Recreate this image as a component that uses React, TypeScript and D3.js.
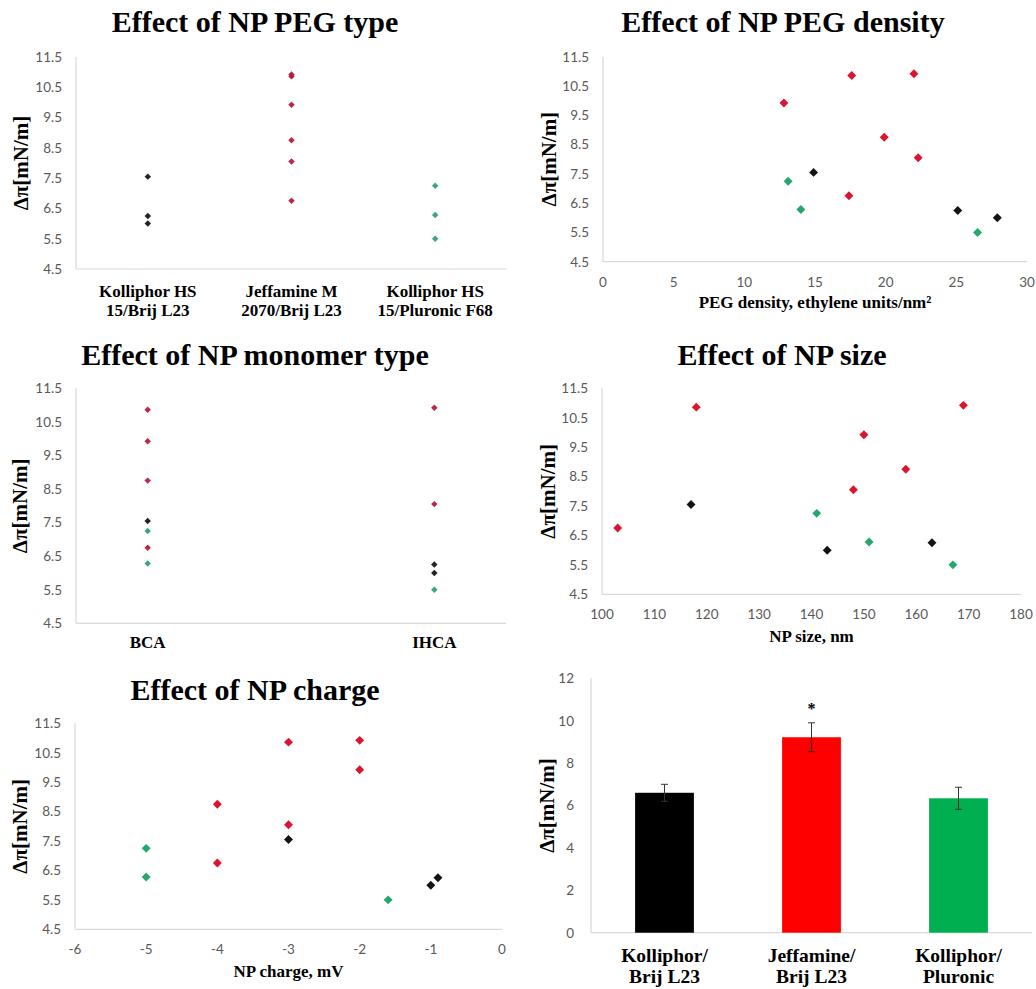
import React from 'react';
import * as d3 from 'd3';

// one entry per NP formulation
const formulationGroup = [0, 0, 0, 1, 1, 1, 1, 1, 1, 2, 2, 2];
const deltaPi = [7.55, 6.25, 6.0, 10.86, 10.92, 9.92, 8.75, 8.05, 6.75, 7.25, 6.28, 5.5];
const pegDensity = [14.9, 25.1, 27.9, 17.6, 22.0, 12.8, 19.9, 22.3, 17.4, 13.1, 14.0, 26.5];
const npSize = [117, 163, 143, 118, 169, 150, 158, 148, 103, 141, 151, 167];
const npCharge = [-3, -0.9, -1.0, -3, -2, -2, -4, -3, -4, -5, -5, -1.6];
const monomer = ['BCA', 'IHCA', 'IHCA', 'BCA', 'IHCA', 'BCA', 'BCA', 'IHCA', 'BCA', 'BCA', 'BCA', 'IHCA'];

const pegTypeLabels = [
  ['Kolliphor HS', '15/Brij L23'],
  ['Jeffamine M', '2070/Brij L23'],
  ['Kolliphor HS', '15/Pluronic F68'],
];
const monomerLabels = ['BCA', 'IHCA'];

const dpiTicks = [4.5, 5.5, 6.5, 7.5, 8.5, 9.5, 10.5, 11.5];
const densityTicks = [0, 5, 10, 15, 20, 25, 30];
const sizeTicks = [100, 110, 120, 130, 140, 150, 160, 170, 180];
const chargeTicks = [-6, -5, -4, -3, -2, -1, 0];

const barLabels = [
  ['Kolliphor/', 'Brij L23'],
  ['Jeffamine/', 'Brij L23'],
  ['Kolliphor/', 'Pluronic'],
];
const barMeans = [6.6, 9.22, 6.34];
const barErrors = [0.4, 0.68, 0.52];
const barTicks = [0, 2, 4, 6, 8, 10, 12];

const SERIF = '"Liberation Serif", "Times New Roman", serif';
const SANS = 'Lato, "Open Sans", sans-serif';
const AXIS = '#d9d9d9';
const TICK = '#595959';

const mutedColors = ['#111111', '#b3173d', '#2d9c7b'];
const brightColors = ['#000000', '#d9001e', '#14a062'];
const barColors = ['#000000', '#ff0000', '#00b050'];

const yLabel = 'Δπ[mN/m]';

function diamond(area) {
  return d3.symbol(d3.symbolSquare, area)();
}

function YAxis({ y, x0, ticks, fmt, gap = 14 }) {
  return (
    <g>
      {ticks.map(t => (
        <text key={t} x={x0 - gap} y={y(t)} dy="0.36em" textAnchor="end"
          fontFamily={SANS} fontSize={13.5} fill={TICK}>{fmt(t)}</text>
      ))}
    </g>
  );
}

function Frame({ x0, x1, y0, y1 }) {
  return (
    <g stroke={AXIS} strokeWidth={1.2} fill="none">
      <line x1={x0} x2={x0} y1={y0} y2={y1} />
      <line x1={x0} x2={x1} y1={y1} y2={y1} />
    </g>
  );
}

function Title({ x, y, text }) {
  return (
    <text x={x} y={y} textAnchor="middle" fontFamily={SERIF} fontWeight="bold" fontSize={30}>{text}</text>
  );
}

function YTitle({ cx, cy, size = 21 }) {
  return (
    <text transform={`translate(${cx + size * 0.34},${cy}) rotate(-90)`} textAnchor="middle"
      fontFamily={SERIF} fontWeight="bold" fontSize={size}>{yLabel}</text>
  );
}

function Points({ xs, ys, colors, area }) {
  const d = diamond(area);
  return (
    <g>
      {formulationGroup.map((g, i) => (
        <path key={i} d={d} fill={colors[g]} fillOpacity={0.92}
          transform={`translate(${xs[i]},${ys[i]}) rotate(45)`} />
      ))}
    </g>
  );
}

function ScatterNumeric({ frame, domain, ticks, values, title, titleX, titleY, xTitle, xTitleY, yTitleX }) {
  const { x0, x1, y0, y1 } = frame;
  const x = d3.scaleLinear().domain(domain).range([x0, x1]);
  const y = d3.scaleLinear().domain([4.5, 11.5]).range([y1, y0]);
  return (
    <g>
      <Title x={titleX} y={titleY} text={title} />
      <Frame {...frame} />
      <YAxis y={y} x0={x0} ticks={dpiTicks} fmt={d3.format('.1f')} />
      {ticks.map(t => (
        <text key={t} x={x(t)} y={y1 + 25} textAnchor="middle" fontFamily={SANS} fontSize={13.5} fill={TICK}>{t}</text>
      ))}
      <text x={(x0 + x1) / 2} y={xTitleY} textAnchor="middle" fontFamily={SERIF} fontWeight="bold" fontSize={17}>{xTitle}</text>
      <YTitle cx={yTitleX} cy={(y0 + y1) / 2} />
      <Points xs={values.map(v => x(v))} ys={deltaPi.map(v => y(v))} colors={brightColors} area={40} />
    </g>
  );
}

function ScatterCategory({ frame, cats, catOf, padding, labels, labelY, title, titleX, titleY, yTitleX }) {
  const { x0, x1, y0, y1 } = frame;
  const x = d3.scalePoint().domain(cats).range([x0, x1]).padding(padding);
  const y = d3.scaleLinear().domain([4.5, 11.5]).range([y1, y0]);
  return (
    <g>
      <Title x={titleX} y={titleY} text={title} />
      <Frame {...frame} />
      <YAxis y={y} x0={x0} ticks={dpiTicks} fmt={d3.format('.1f')} />
      {cats.map((c, i) => (
        <text key={c} x={x(c)} y={labelY} textAnchor="middle" fontFamily={SERIF} fontWeight="bold" fontSize={17}>
          {labels[i].map((line, j) => (
            <tspan key={j} x={x(c)} dy={j === 0 ? 0 : 19}>{line}</tspan>
          ))}
        </text>
      ))}
      <YTitle cx={yTitleX} cy={(y0 + y1) / 2} />
      <Points xs={catOf.map(c => x(c))} ys={deltaPi.map(v => y(v))} colors={mutedColors} area={21} />
    </g>
  );
}

function BarPanel({ frame }) {
  const { x0, x1, y0, y1 } = frame;
  const cats = barLabels.map((_, i) => i);
  const x = d3.scaleBand().domain(cats).range([x0, x1]).paddingInner(0.6).paddingOuter(0.3);
  const y = d3.scaleLinear().domain([0, 12]).range([y1, y0]);
  const bw = x.bandwidth();
  return (
    <g>
      <Frame {...frame} />
      <YAxis y={y} x0={x0} ticks={barTicks} fmt={d => d} gap={17} />
      {cats.map(i => {
        const cx = x(i) + bw / 2;
        return (
          <g key={i}>
            <rect x={x(i)} y={y(barMeans[i])} width={bw} height={y(0) - y(barMeans[i])} fill={barColors[i]} />
            <g stroke="#333" strokeWidth={1}>
              <line x1={cx} x2={cx} y1={y(barMeans[i] + barErrors[i])} y2={y(barMeans[i] - barErrors[i])} />
              <line x1={cx - 3.5} x2={cx + 3.5} y1={y(barMeans[i] + barErrors[i])} y2={y(barMeans[i] + barErrors[i])} />
              <line x1={cx - 3.5} x2={cx + 3.5} y1={y(barMeans[i] - barErrors[i])} y2={y(barMeans[i] - barErrors[i])} />
            </g>
            <text x={cx} y={y1 + 29} textAnchor="middle" fontFamily={SERIF} fontWeight="bold" fontSize={19.5}>
              {barLabels[i].map((line, j) => (
                <tspan key={j} x={cx} dy={j === 0 ? 0 : 21.5}>{line}</tspan>
              ))}
            </text>
          </g>
        );
      })}
      <text x={x(1) + bw / 2} y={y(barMeans[1] + barErrors[1]) - 9} textAnchor="middle"
        fontFamily={SERIF} fontWeight="bold" fontSize={16}>*</text>
      <YTitle cx={547} cy={(y0 + y1) / 2} />
    </g>
  );
}

export default function App() {
  return (
    <svg width={1036} height={989} viewBox="0 0 1036 989"
      style={{ position: 'absolute', left: 0, top: 0, background: '#fff', display: 'block' }}>
      <ScatterCategory
        frame={{ x0: 76, x1: 507, y0: 57, y1: 269 }}
        cats={[0, 1, 2]} catOf={formulationGroup} padding={0.5}
        labels={pegTypeLabels} labelY={297}
        title="Effect of NP PEG type" titleX={255} titleY={32} yTitleX={21} />
      <ScatterNumeric
        frame={{ x0: 603, x1: 1027, y0: 56.7, y1: 261.7 }}
        domain={[0, 30]} ticks={densityTicks} values={pegDensity}
        title="Effect of NP PEG density" titleX={783} titleY={32}
        xTitle="PEG density, ethylene units/nm²" xTitleY={308} yTitleX={549} />
      <ScatterCategory
        frame={{ x0: 76, x1: 506, y0: 388.3, y1: 623.3 }}
        cats={monomerLabels} catOf={monomer} padding={0.25}
        labels={monomerLabels.map(m => [m])} labelY={648}
        title="Effect of NP monomer type" titleX={255} titleY={365} yTitleX={20} />
      <ScatterNumeric
        frame={{ x0: 602, x1: 1021, y0: 388.3, y1: 594.3 }}
        domain={[100, 180]} ticks={sizeTicks} values={npSize}
        title="Effect of NP size" titleX={782} titleY={365}
        xTitle="NP size, nm" xTitleY={641.5} yTitleX={548} />
      <ScatterNumeric
        frame={{ x0: 75, x1: 502, y0: 723.3, y1: 929.3 }}
        domain={[-6, 0]} ticks={chargeTicks} values={npCharge}
        title="Effect of NP charge" titleX={255} titleY={700}
        xTitle="NP charge, mV" xTitleY={976.5} yTitleX={20} />
      <BarPanel frame={{ x0: 591, x1: 1032, y0: 678.3, y1: 932.7 }} />
    </svg>
  );
}
